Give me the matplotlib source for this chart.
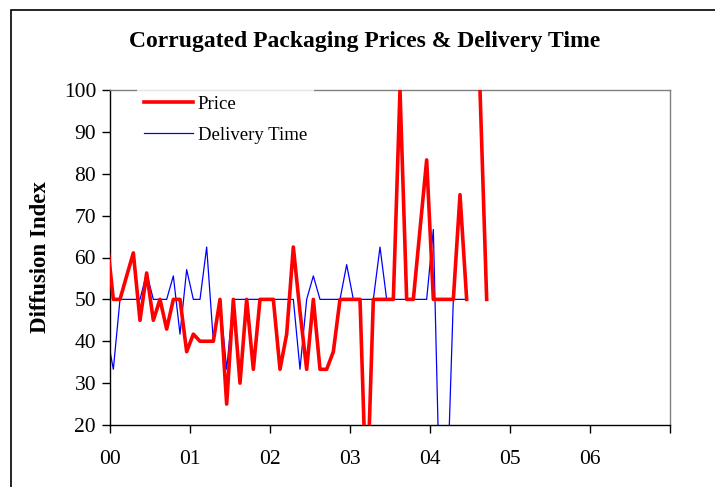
import numpy as np
import matplotlib
matplotlib.use("Agg")
import matplotlib.pyplot as plt
from matplotlib.patches import Rectangle

# Monthly diffusion index, Dec 1999 .. Sep 2004 (month index -1 .. 56)
month_index = list(range(-1, 57))
price = [
    65, 50, 50, 55.6, 61.1, 45, 56.3, 45, 50, 42.9, 50, 50, 37.5,
    41.7, 40, 40, 40, 50, 25, 50, 30, 50, 33.3, 50, 50, 50,
    33.3, 41.7, 62.5, 47, 33.3, 50, 33.3, 33.3, 37.5, 50, 50, 50, 50,
    0, 50, 50, 50, 50, 100, 50, 50, 66.7, 83.3, 50, 50, 50,
    50, 75, 50, np.nan, 100, 50,
]
delivery = [
    42, 33.3, 50, 50, 50, 50, 56.3, 50, 50, 50, 55.6, 41.7, 57.1,
    50, 50, 62.5, 40, 50, 33.3, 50, 50, 50, 50, 50, 50, 50,
    50, 50, 50, 33.3, 50, 55.6, 50, 50, 50, 50, 58.3, 50, 50,
    50, 50, 62.5, 50, 50, 50, 50, 50, 50, 50, 66.7, 0, 0,
    50, 50, 50,
]
year_ticks = [0, 1, 2, 3, 4, 5, 6, 7]
year_labels = ["00", "01", "02", "03", "04", "05", "06", ""]

plt.rcParams["font.family"] = ["Liberation Serif", "DejaVu Serif"]

x_price = [(m + 0.5) / 12 for m in month_index]
x_deliv = [(m + 0.5) / 12 for m in month_index[:len(delivery)]]

fig = plt.figure(figsize=(7.15, 4.87), dpi=100)
ax = fig.add_axes([110 / 715, 62 / 487, 560 / 715, 335 / 487])

ax.plot(x_price, price, color="#ff0000", lw=2.6, label="Price", zorder=3)
ax.plot(x_deliv, delivery, color="#0000ff", lw=0.9, label="Delivery Time", zorder=2)

ax.set_xlim(0, 7)
ax.set_ylim(20, 100)
ax.set_xticks(year_ticks)
ax.set_xticklabels(year_labels)
ax.set_yticks(range(20, 101, 10))
ax.tick_params(axis="both", labelsize=15.5, length=6, width=1, direction="out")
ax.tick_params(axis="x", pad=12)
ax.tick_params(axis="y", pad=4)

for side in ("top", "right"):
    ax.spines[side].set_color("#808080")
    ax.spines[side].set_linewidth(1.0)
for side in ("left", "bottom"):
    ax.spines[side].set_color("black")
    ax.spines[side].set_linewidth(1.0)

ax.set_ylabel("Diffusion Index", fontsize=16.5, fontweight="bold", labelpad=9)

leg = ax.legend(loc="upper left", bbox_to_anchor=(137 / 715, 1 - 89 / 487),
                bbox_transform=fig.transFigure, borderaxespad=0,
                fontsize=13.5, handlelength=2.65, handletextpad=0.25,
                labelspacing=0.75, frameon=True, fancybox=False,
                borderpad=0.35)
leg.get_frame().set_facecolor("white")
leg.get_frame().set_edgecolor("none")
leg.set_zorder(10)

fig.text(365 / 715, 1 - 41 / 487, "Corrugated Packaging Prices & Delivery Time",
         ha="center", va="center", fontsize=17, fontweight="bold")

fig.patches.append(Rectangle((11 / 715, -0.1), 2, 1.1 - 9.5 / 487,
                             transform=fig.transFigure, fill=False,
                             edgecolor="black", lw=1.2))

fig.savefig("out.png", dpi=100)
